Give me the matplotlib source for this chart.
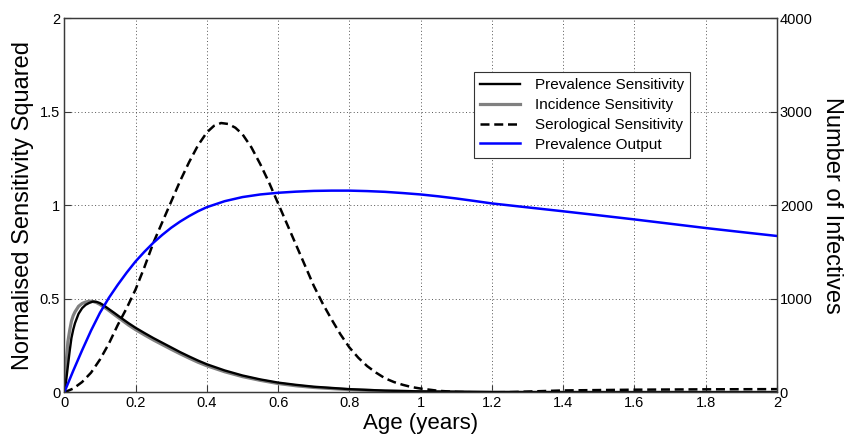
import matplotlib
matplotlib.use("Agg")
import matplotlib.pyplot as plt

plt.rcParams['font.family'] = ['Liberation Sans', 'DejaVu Sans']

# Prevalence sensitivity (black)
prev_age = [0, 0.005, 0.01, 0.015, 0.02, 0.025, 0.03, 0.04, 0.05, 0.06, 0.07, 0.08, 0.09, 0.1, 0.11,
            0.12, 0.14, 0.16, 0.18, 0.2, 0.225, 0.25, 0.275, 0.3, 0.325, 0.35, 0.375, 0.4, 0.45, 0.5,
            0.55, 0.6, 0.65, 0.7, 0.8, 0.9, 1.0, 1.2, 1.5, 2.0]
prev_sens = [0, 0.06, 0.14, 0.22, 0.29, 0.335, 0.37, 0.42, 0.45, 0.468, 0.478, 0.485, 0.484, 0.477,
             0.466, 0.452, 0.425, 0.397, 0.37, 0.345, 0.317, 0.29, 0.265, 0.24, 0.215, 0.192, 0.17, 0.15,
             0.117, 0.09, 0.069, 0.052, 0.04, 0.03, 0.017, 0.009, 0.005, 0.001, 0.0, 0.0]

# Incidence sensitivity (grey)
inc_age = [0, 0.005, 0.01, 0.015, 0.02, 0.025, 0.03, 0.04, 0.05, 0.06, 0.07, 0.08, 0.09, 0.1, 0.11,
           0.12, 0.14, 0.16, 0.18, 0.2, 0.225, 0.25, 0.275, 0.3, 0.325, 0.35, 0.375, 0.4, 0.45, 0.5,
           0.55, 0.6, 0.65, 0.7, 0.8, 0.9, 1.0, 1.2, 1.5, 2.0]
inc_sens = [0, 0.15, 0.27, 0.33, 0.38, 0.41, 0.43, 0.46, 0.475, 0.483, 0.487, 0.486, 0.48, 0.47,
            0.458, 0.445, 0.416, 0.388, 0.36, 0.335, 0.307, 0.28, 0.255, 0.23, 0.206, 0.183, 0.161, 0.142,
            0.11, 0.084, 0.064, 0.047, 0.035, 0.026, 0.014, 0.007, 0.003, 0.001, 0.0, 0.0]

# Serological sensitivity (dashed)
sero_age = [0, 0.025, 0.05, 0.075, 0.1, 0.125, 0.15, 0.175, 0.2, 0.225, 0.25, 0.275, 0.3, 0.325,
            0.35, 0.375, 0.4, 0.42, 0.44, 0.46, 0.48, 0.5, 0.525, 0.55, 0.575, 0.6, 0.625, 0.65,
            0.675, 0.7, 0.725, 0.75, 0.775, 0.8, 0.825, 0.85, 0.875, 0.9, 0.925, 0.95, 0.975, 1.0,
            1.05, 1.1, 1.15, 1.2, 1.25, 1.3, 1.4, 1.5, 1.6, 1.8, 2.0]
sero_sens = [0, 0.02, 0.055, 0.105, 0.175, 0.26, 0.36, 0.45, 0.55, 0.67, 0.8, 0.91, 1.02, 1.13,
             1.23, 1.32, 1.39, 1.425, 1.44, 1.435, 1.415, 1.38, 1.31, 1.22, 1.12, 1.01, 0.9, 0.79,
             0.68, 0.57, 0.475, 0.39, 0.31, 0.24, 0.185, 0.14, 0.105, 0.075, 0.055, 0.04, 0.028, 0.02,
             0.008, 0.002, 0.0, 0.0, 0.001, 0.004, 0.01, 0.012, 0.014, 0.016, 0.017]

# Prevalence output (blue, number of infectives, right axis)
out_age = [0, 0.025, 0.05, 0.075, 0.1, 0.125, 0.15, 0.175, 0.2, 0.225, 0.25, 0.275, 0.3, 0.325,
           0.35, 0.375, 0.4, 0.45, 0.5, 0.55, 0.6, 0.65, 0.7, 0.75, 0.8, 0.85, 0.9, 0.95, 1.0, 1.05,
           1.1, 1.15, 1.2, 1.3, 1.4, 1.5, 1.6, 1.7, 1.8, 1.9, 2.0]
out_infectives = [0, 230, 450, 660, 850, 1010, 1150, 1280, 1400, 1504, 1600, 1684, 1760, 1826, 1884,
                  1936, 1980, 2044, 2088, 2116, 2134, 2146, 2154, 2157, 2157, 2152, 2144, 2131, 2116,
                  2096, 2073, 2047, 2020, 1978, 1936, 1893, 1849, 1803, 1757, 1714, 1672]

xticks = [0, 0.2, 0.4, 0.6, 0.8, 1, 1.2, 1.4, 1.6, 1.8, 2]
xticklabels = ['0', '0.2', '0.4', '0.6', '0.8', '1', '1.2', '1.4', '1.6', '1.8', '2']
yticks_left = [0, 0.5, 1, 1.5, 2]
yticklabels_left = ['0', '0.5', '1', '1.5', '2']
yticks_right = [0, 1000, 2000, 3000, 4000]
yticklabels_right = ['0', '1000', '2000', '3000', '4000']

fig = plt.figure(figsize=(8.45, 4.41), dpi=100)
ax = fig.add_axes([0.0761, 0.1104, 0.8434, 0.8481])

spine_col = '#3a3a3a'
h_inc, = ax.plot(inc_age, inc_sens, color='#808080', lw=2.3, label='Incidence Sensitivity')
h_prev, = ax.plot(prev_age, prev_sens, color='black', lw=1.7, label='Prevalence Sensitivity')
h_sero, = ax.plot(sero_age, sero_sens, color='black', lw=1.8, ls=(0, (3.6, 1.9)),
                  label='Serological Sensitivity')

ax.set_xlim(0, 2)
ax.set_ylim(0, 2)
ax.set_xticks(xticks)
ax.set_xticklabels(xticklabels)
ax.set_yticks(yticks_left)
ax.set_yticklabels(yticklabels_left)
ax.grid(True, ls=(0, (1, 2.5)), color='#555555', lw=0.7)
ax.tick_params(direction='in', length=5, width=0.8, colors=spine_col, labelcolor='black',
               labelsize=10.5, pad=3)
ax.set_xlabel('Age (years)', fontsize=16, labelpad=2)
ax.set_ylabel('Normalised Sensitivity Squared', fontsize=17, labelpad=4)

ax2 = ax.twinx()
h_out, = ax2.plot(out_age, out_infectives, color='#0000ff', lw=1.8, label='Prevalence Output')
ax2.set_ylim(0, 4000)
ax2.set_yticks(yticks_right)
ax2.set_yticklabels(yticklabels_right)
ax2.tick_params(direction='in', length=5, width=0.8, colors=spine_col, labelcolor='black',
                labelsize=10.5, pad=2)
ax2.set_ylabel('Number of Infectives', fontsize=17, rotation=270, labelpad=22)

for a in (ax, ax2):
    for s in a.spines.values():
        s.set_color(spine_col)
        s.set_linewidth(0.9)

leg = ax2.legend([h_prev, h_inc, h_sero, h_out],
                 ['Prevalence Sensitivity', 'Incidence Sensitivity', 'Serological Sensitivity',
                  'Prevalence Output'],
                 loc='upper left', bbox_to_anchor=(0.575, 0.856), fontsize=11,
                 fancybox=False, framealpha=1, edgecolor='#333333', handlelength=2.6,
                 handletextpad=1.0, borderpad=0.4, labelspacing=0.38, borderaxespad=0)
leg.get_frame().set_linewidth(0.8)

fig.savefig('out.png', dpi=100)
